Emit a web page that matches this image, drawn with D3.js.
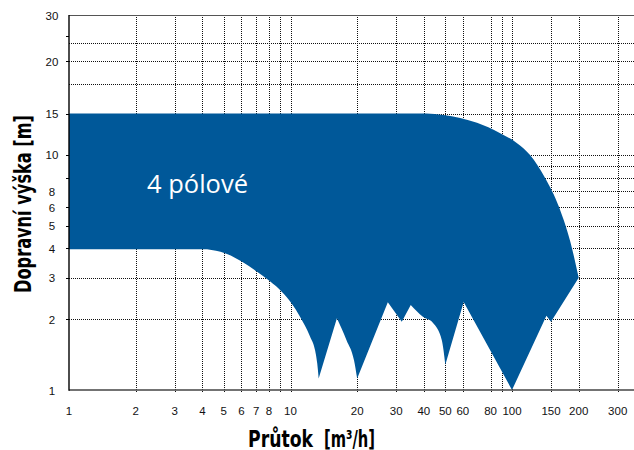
<!DOCTYPE html>
<html>
<head>
<meta charset="utf-8">
<script src="https://cdn.jsdelivr.net/npm/d3@7"></script>
<style>
  html, body { margin: 0; padding: 0; background: #fff; }
  svg { display: block; }
</style>
</head>
<body>
<svg id="chart" width="634" height="450"></svg>
<script>
// Pump operating field (flow vs. head), log-log chart.

// Axis ticks
const flowTickLabels = [1, 2, 3, 4, 5, 6, 7, 8, 10, 20, 30, 40, 50, 60, 80, 100, 150, 200, 300];
const flowGridValues = [2, 3, 4, 5, 6, 7, 8, 9, 10, 20, 30, 40, 50, 60, 80, 90, 100, 150, 200, 300];
const headGridValues = [2, 3, 4, 5, 6, 7, 8, 9, 10, 15, 20, 25, 30];
const headLabelText = ["1", "2", "3", "4", "5", "6", "8", "10", "15", "20", "30"];
const headLabelValue = [1, 2, 3, 4, 5, 6, 7, 10, 15, 25, 39.4];
const headTickMarks = [2, 3, 4, 5, 6, 8, 10, 15, 25, 32];

// Envelope of the operating field: [flow m3/h, head m]
const upperLimit = [[1, 15], [41, 15], [49, 14.8], [69.5, 13.7], [88, 12.4], [105, 11.25],
                    [120.6, 10], [140.9, 8], [163, 6], [186.6, 4], [200, 3]];
const lowerRightEdge = [[200, 3], [150, 1.95], [143, 2.07], [100, 1.0], [60.5, 2.37], [50, 1.28]];
const lowerArc50 = [[50, 1.28], [48.2, 1.63], [44, 1.93], [39.6, 2.05], [34.9, 2.3]];
const lowerMidEdge = [[34.9, 2.3], [31.8, 1.95], [27.5, 2.36], [20, 1.12]];
const lowerArc20 = [[20, 1.12], [19.35, 1.34], [17.9, 1.63], [16.2, 2.02]];
const lowerEdge13 = [[16.2, 2.02], [13.4, 1.12]];
const lowerArc13 = [[13.4, 1.12], [13.2, 1.30], [12.9, 1.48], [12.25, 1.69], [11.04, 2.05],
                    [10.1, 2.34], [9.13, 2.62], [8.08, 2.9], [7.04, 3.19], [6.02, 3.52],
                    [5.06, 3.82], [4.2, 3.97]];
const lowerFlat = [[4.2, 3.97], [1, 3.97]];

const fieldLabel = "4 pólové";

const svg = d3.select("#chart");
const W = 634, H = 450;
const plotLeft = 69, plotRight = 634, plotTop = 15, plotBottom = 390;

const x = d3.scaleLog().domain([1, 355.4]).range([plotLeft, plotRight]);
const y = d3.scaleLog().domain([1, 39.4]).range([plotBottom, plotTop]);

svg.append("rect").attr("width", W).attr("height", H).attr("fill", "#fff");

// Dotted grid
const grid = svg.append("g")
  .attr("stroke", "#111")
  .attr("stroke-width", 1)
  .attr("stroke-dasharray", "1,1")
  .attr("shape-rendering", "crispEdges");

grid.selectAll("line.v").data(flowGridValues).join("line")
  .attr("class", "v")
  .attr("x1", d => Math.round(x(d)) + 0.5).attr("x2", d => Math.round(x(d)) + 0.5)
  .attr("y1", plotTop).attr("y2", plotBottom + 3);

grid.selectAll("line.h").data(headGridValues).join("line")
  .attr("class", "h")
  .attr("x1", plotLeft).attr("x2", plotRight)
  .attr("y1", d => Math.round(y(d)) + 0.5).attr("y2", d => Math.round(y(d)) + 0.5);

// Operating field
const segment = (pts, curve) => d3.line()
  .x(d => x(d[0])).y(d => y(d[1]))
  .curve(curve)(pts);

const smooth = d3.curveMonotoneX;
const straight = d3.curveLinear;
const pieces = [
  [upperLimit, smooth],
  [lowerRightEdge, straight],
  [lowerArc50, smooth],
  [lowerMidEdge, straight],
  [lowerArc20, smooth],
  [lowerEdge13, straight],
  [lowerArc13, smooth],
  [lowerFlat, straight]
];
const fieldPath = pieces.map(([pts, c], i) => {
  const p = segment(pts, c);
  return i === 0 ? p : "L" + p.slice(1);
}).join("") + "Z";

svg.append("path")
  .attr("d", fieldPath)
  .attr("fill", "#005899");

// Axes frame
svg.append("line")
  .attr("x1", plotLeft).attr("x2", plotRight).attr("y1", plotTop + 0.5).attr("y2", plotTop + 0.5)
  .attr("stroke", "#555").attr("stroke-width", 1.2);
svg.append("line")
  .attr("x1", plotLeft).attr("x2", plotRight).attr("y1", plotBottom).attr("y2", plotBottom)
  .attr("stroke", "#444").attr("stroke-width", 1.6);
svg.append("line")
  .attr("x1", plotLeft).attr("x2", plotLeft).attr("y1", plotTop).attr("y2", plotBottom + 0.8)
  .attr("stroke", "#000").attr("stroke-width", 1.4);

// Left tick marks
svg.append("g").selectAll("line").data(headTickMarks).join("line")
  .attr("x1", plotLeft - 3).attr("x2", plotLeft)
  .attr("y1", d => Math.round(y(d)) + 0.5).attr("y2", d => Math.round(y(d)) + 0.5)
  .attr("stroke", "#000").attr("stroke-width", 1);

// Tick labels
const tickFont = "'Liberation Sans', Arial, sans-serif";
svg.append("g").selectAll("text").data(flowTickLabels).join("text")
  .attr("x", d => x(d))
  .attr("y", 414.5)
  .attr("text-anchor", "middle")
  .attr("font-family", tickFont)
  .attr("font-size", 11.5)
  .attr("fill", "#111")
  .text(d => d);

svg.append("g").selectAll("text").data(headLabelText).join("text")
  .attr("x", 52)
  .attr("y", (d, i) => y(headLabelValue[i]) + 4.5)
  .attr("text-anchor", "middle")
  .attr("font-family", tickFont)
  .attr("font-size", 11.5)
  .attr("fill", "#111")
  .text(d => d);

// Axis titles
const titleFont = "'Liberation Sans Narrow', 'DejaVu Sans Condensed', sans-serif";
svg.append("text")
  .attr("transform", "translate(31,204) rotate(-90)")
  .attr("text-anchor", "middle")
  .attr("font-family", titleFont)
  .attr("font-weight", "bold")
  .attr("font-size", 23)
  .attr("textLength", 178)
  .attr("lengthAdjust", "spacingAndGlyphs")
  .attr("fill", "#000")
  .text("Dopravní výška [m]");

svg.append("text")
  .attr("x", 248).attr("y", 446.5)
  .attr("font-family", titleFont)
  .attr("font-weight", "bold")
  .attr("font-size", 23)
  .attr("textLength", 65)
  .attr("lengthAdjust", "spacingAndGlyphs")
  .attr("fill", "#000")
  .text("Průtok");
svg.append("text")
  .attr("x", 324).attr("y", 446.5)
  .attr("font-family", titleFont)
  .attr("font-weight", "bold")
  .attr("font-size", 23)
  .attr("textLength", 51)
  .attr("lengthAdjust", "spacingAndGlyphs")
  .attr("fill", "#000")
  .text("[m³/h]");

// Field label
svg.append("text")
  .attr("x", 147).attr("y", 193)
  .attr("font-family", "'Open Sans', 'Noto Sans', sans-serif")
  .attr("font-size", 26)
  .attr("textLength", 101)
  .attr("lengthAdjust", "spacingAndGlyphs")
  .attr("fill", "#fff")
  .text(fieldLabel);
</script>
</body>
</html>
